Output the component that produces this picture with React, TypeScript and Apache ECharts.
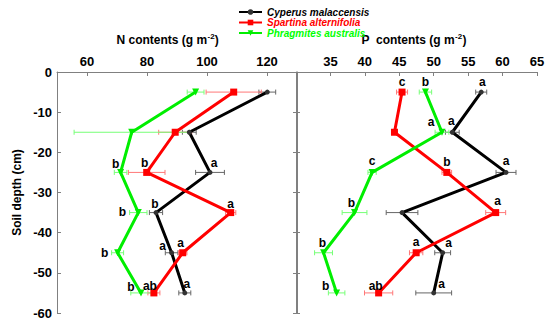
import React, { useEffect, useRef } from 'react';
import * as echarts from 'echarts';

const depths = [-5, -15, -25, -35, -45, -55];
const speciesNames = ['Cyperus malaccensis', 'Spartina alternifolia', 'Phragmites australis'];

// N contents (g m-2)
const nCyperus = [120.1, 94.1, 101.0, 83.0, 88.2, 92.6];
const nCyperusErr = [2.8, 2.3, 4.8, 2.2, 2.1, 2.0];
const nSpartina = [108.9, 89.4, 79.9, 107.9, 91.9, 82.3];
const nSpartinaErr = [9.2, 5.5, 6.1, 1.7, 1.4, 2.0];
const nPhragmites = [96.2, 74.9, 71.2, 77.1, 70.2, 78.0];
const nPhragmitesErr = [2.8, 19.2, 2.1, 2.9, 2.0, 3.4];
const nCyperusLetters = ['', '', 'a', 'b', 'a', 'a'];
const nSpartinaLetters = ['', '', 'b', 'a', 'a', 'ab'];
const nPhragmitesLetters = ['', '', 'b', 'b', 'b', 'b'];

// P contents (g m-2)
const pCyperus = [56.9, 52.7, 60.5, 45.4, 51.3, 50.0];
const pCyperusErr = [0.8, 1.0, 1.45, 2.3, 1.15, 2.6];
const pSpartina = [45.4, 44.3, 51.9, 59.0, 47.45, 42.0];
const pSpartinaErr = [0.8, 0.3, 0.7, 1.45, 0.97, 2.05];
const pPhragmites = [48.8, 51.2, 41.05, 38.5, 34.0, 35.9];
const pPhragmitesErr = [0.9, 1.0, 0.6, 1.8, 1.3, 1.2];
const pCyperusLetters = ['a', 'a', 'a', '', 'a', 'a'];
const pSpartinaLetters = ['c', '', 'b', 'a', 'a', 'ab'];
const pPhragmitesLetters = ['b', 'a', 'c', 'b', 'b', 'b'];

const nTickValues = [60, 80, 100, 120];

// label placement (pixel offsets from the point) – layout only
const nCyperusOff = [[0, 0], [0, 0], [4, -9], [-1, -9], [-9, -7], [2, -9]];
const nSpartinaOff = [[0, 0], [0, 0], [-2, -9], [0, -9], [-2, -10], [-4, -7]];
const nPhragmitesOff = [[0, 0], [0, 0], [-5, -8], [-16, -1], [-13, 0], [-10, -6]];
const pCyperusOff = [[1, -10], [-1, -11], [0, -11], [0, 0], [6, -10], [8, -9]];
const pSpartinaOff = [[0, -10], [0, 0], [0, -10], [2, -12], [0, -11], [-3, -7]];
const pPhragmitesOff = [[0, -10], [-11, -10], [0, -11], [-3, -10], [-1, -10], [-11, -7]];

const FONT = 'Liberation Sans, Arial, sans-serif';
const COLORS = ['#000000', '#ff0000', '#00ee00'];
const ERR_COLORS = ['#666666', '#ff7777', '#77ff77'];
const SYMBOLS = ['circle', 'rect', 'triangle'];
const SYMBOL_SIZES = [5, 7, 7];
const SYMBOL_ROT = [0, 0, 180];

function pts(vals: number[]) {
  return vals.map((v, i) => [v, depths[i]]);
}

function lineSeries(k: number, vals: number[], axis: number) {
  return {
    type: 'line',
    name: speciesNames[k],
    xAxisIndex: axis,
    yAxisIndex: axis === 0 ? 0 : 2,
    data: pts(vals),
    symbol: SYMBOLS[k],
    symbolSize: SYMBOL_SIZES[k],
    symbolRotate: SYMBOL_ROT[k],
    showAllSymbol: true,
    lineStyle: { color: COLORS[k], width: 3 },
    itemStyle: { color: k === 0 ? '#333333' : COLORS[k] },
    z: 3,
  };
}

function errSeries(k: number, vals: number[], errs: number[], axis: number) {
  const color = ERR_COLORS[k];
  return {
    type: 'custom',
    xAxisIndex: axis,
    yAxisIndex: axis === 0 ? 0 : 2,
    data: vals.map((v, i) => [v, depths[i], errs[i]]),
    encode: { x: 0, y: 1 },
    z: 2,
    silent: true,
    renderItem: (params: any, api: any) => {
      const x = api.value(0);
      const y = api.value(1);
      const e = api.value(2);
      const a = api.coord([x - e, y]);
      const b = api.coord([x + e, y]);
      const h = 2.5;
      const style = { stroke: color, lineWidth: 1 };
      return {
        type: 'group',
        children: [
          { type: 'line', shape: { x1: a[0], y1: a[1], x2: b[0], y2: b[1] }, style },
          { type: 'line', shape: { x1: a[0], y1: a[1] - h, x2: a[0], y2: a[1] + h }, style },
          { type: 'line', shape: { x1: b[0], y1: b[1] - h, x2: b[0], y2: b[1] + h }, style },
        ],
      };
    },
  };
}

function letterSeries(vals: number[], letters: string[], offs: number[][], axis: number) {
  return {
    type: 'custom',
    xAxisIndex: axis,
    yAxisIndex: axis === 0 ? 0 : 2,
    data: pts(vals),
    encode: { x: 0, y: 1 },
    z: 5,
    silent: true,
    renderItem: (params: any, api: any) => {
      const i = params.dataIndex;
      const t = letters[i];
      if (!t) return null;
      const p = api.coord([api.value(0), api.value(1)]);
      return {
        type: 'text',
        x: p[0] + offs[i][0],
        y: p[1] + offs[i][1],
        style: {
          text: t,
          fill: '#000',
          font: `bold 12px ${FONT}`,
          align: 'center',
          verticalAlign: 'middle',
        },
      };
    },
  };
}

function titleGraphic(main: string, startX: number, mainWidth: number) {
  return {
    type: 'group',
    children: [
      { type: 'text', x: startX, y: 40, style: { text: main, font: `bold 12px ${FONT}`, fill: '#000', align: 'left', verticalAlign: 'middle' } },
      { type: 'text', x: startX + mainWidth + 0.3, y: 36, style: { text: '-2', font: `bold 8px ${FONT}`, fill: '#000', align: 'left', verticalAlign: 'middle' } },
      { type: 'text', x: startX + mainWidth + 7.6, y: 40, style: { text: ')', font: `bold 12px ${FONT}`, fill: '#000', align: 'left', verticalAlign: 'middle' } },
    ],
  };
}

const axisLineStyle = { show: true, lineStyle: { color: '#808080', width: 1 } };
const axisTickStyle = { show: true, inside: true, length: 4, lineStyle: { color: '#808080', width: 1 } };

export default function App() {
  const ref = useRef<HTMLDivElement>(null);
  useEffect(() => {
    if (!ref.current) return;
    const chart = echarts.init(ref.current, undefined, { renderer: 'svg' });
    const option: any = {
      animation: false,
      textStyle: { fontFamily: FONT },
      grid: [
        { left: 57, top: 72, width: 240, height: 241 },
        { left: 296, top: 72, width: 241, height: 241 },
      ],
      legend: {
        orient: 'vertical',
        left: 238,
        top: 7,
        itemWidth: 23,
        itemHeight: 7,
        itemGap: 0.5,
        padding: 0,
        textStyle: { fontSize: 10, fontWeight: 'bold', fontStyle: 'italic', fontFamily: FONT, lineHeight: 10 },
        data: speciesNames.map((n, k) => ({ name: n, textStyle: { color: COLORS[k] === '#00ee00' ? '#00ff00' : COLORS[k] } })),
      },
      xAxis: [
        {
          type: 'value',
          gridIndex: 0,
          position: 'top',
          min: 50,
          max: 130,
          axisLine: axisLineStyle,
          axisTick: { ...axisTickStyle, customValues: nTickValues },
          axisLabel: { customValues: nTickValues, fontSize: 13, fontWeight: 'bold', color: '#000', margin: 4 },
          splitLine: { show: false },
        },
        {
          type: 'value',
          gridIndex: 1,
          position: 'top',
          min: 30,
          max: 65,
          interval: 5,
          axisLine: axisLineStyle,
          axisTick: axisTickStyle,
          axisLabel: { fontSize: 13, fontWeight: 'bold', color: '#000', margin: 4, showMinLabel: false },
          splitLine: { show: false },
        },
      ],
      yAxis: [
        {
          type: 'value',
          gridIndex: 0,
          position: 'left',
          min: -60,
          max: 0,
          interval: 10,
          axisLine: axisLineStyle,
          axisTick: axisTickStyle,
          axisLabel: { fontSize: 13, fontWeight: 'bold', color: '#000', margin: 5 },
          splitLine: { show: false },
          name: 'Soil depth (cm)',
          nameLocation: 'middle',
          nameRotate: 90,
          nameGap: 34,
          nameTextStyle: { fontSize: 12, fontWeight: 'bold', color: '#000' },
        },
        {
          type: 'value',
          gridIndex: 0,
          position: 'right',
          min: -60,
          max: 0,
          interval: 10,
          axisLine: axisLineStyle,
          axisTick: axisTickStyle,
          axisLabel: { show: false },
          splitLine: { show: false },
        },
        {
          type: 'value',
          gridIndex: 1,
          position: 'left',
          min: -60,
          max: 0,
          interval: 10,
          axisLine: axisLineStyle,
          axisTick: axisTickStyle,
          axisLabel: { show: false },
          splitLine: { show: false },
        },
      ],
      graphic: [
        titleGraphic('N contents (g m', 116.5, 90.7),
        titleGraphic('P  contents (g m', 361.5, 93.3),
      ],
      series: [
        errSeries(0, nCyperus, nCyperusErr, 0),
        errSeries(1, nSpartina, nSpartinaErr, 0),
        errSeries(2, nPhragmites, nPhragmitesErr, 0),
        errSeries(0, pCyperus, pCyperusErr, 1),
        errSeries(1, pSpartina, pSpartinaErr, 1),
        errSeries(2, pPhragmites, pPhragmitesErr, 1),
        lineSeries(0, nCyperus, 0),
        lineSeries(1, nSpartina, 0),
        lineSeries(2, nPhragmites, 0),
        lineSeries(0, pCyperus, 1),
        lineSeries(1, pSpartina, 1),
        lineSeries(2, pPhragmites, 1),
        letterSeries(nCyperus, nCyperusLetters, nCyperusOff, 0),
        letterSeries(nSpartina, nSpartinaLetters, nSpartinaOff, 0),
        letterSeries(nPhragmites, nPhragmitesLetters, nPhragmitesOff, 0),
        letterSeries(pCyperus, pCyperusLetters, pCyperusOff, 1),
        letterSeries(pSpartina, pSpartinaLetters, pSpartinaOff, 1),
        letterSeries(pPhragmites, pPhragmitesLetters, pPhragmitesOff, 1),
      ],
    };
    chart.setOption(option);
    return () => chart.dispose();
  }, []);
  return <div ref={ref} style={{ width: 550, height: 322, position: 'absolute', left: 0, top: 0, background: '#fff' }} />;
}
